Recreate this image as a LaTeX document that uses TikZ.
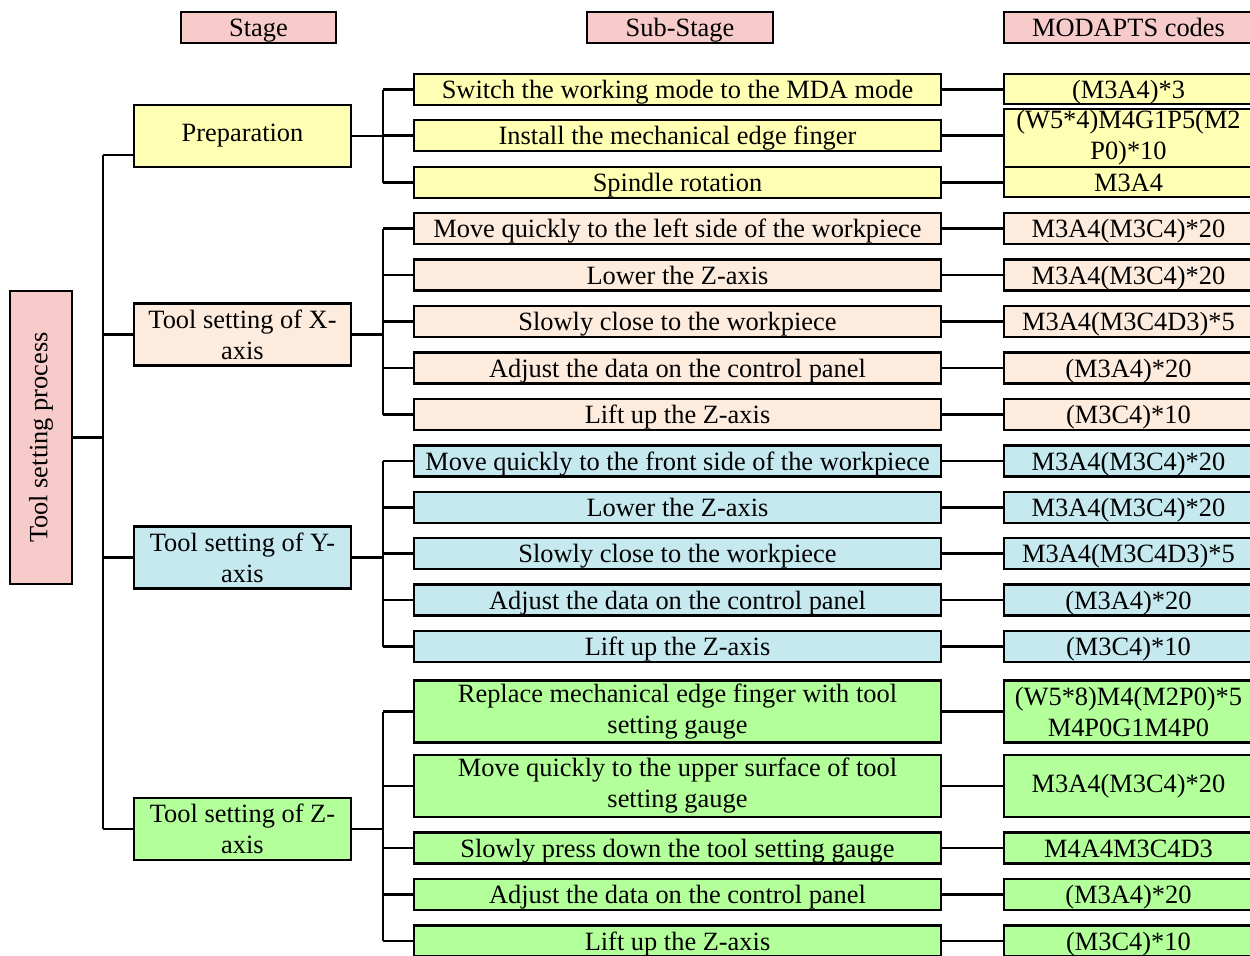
\documentclass[tikz,border=0pt]{standalone}
\usepackage{fontspec}
\setmainfont{Liberation Serif}
\usepackage{tikz}
\usetikzlibrary{calc}

\definecolor{hdpink}{RGB}{248,203,203}
\definecolor{prepyellow}{RGB}{255,255,179}
\definecolor{xpeach}{RGB}{253,235,221}
\definecolor{yblue}{RGB}{197,233,239}
\definecolor{zgreen}{RGB}{179,255,153}

\begin{document}
\begin{tikzpicture}[x=0.5pt, y=-0.5pt,
    box/.style={draw, line width=1.1pt, inner sep=0pt,
        font=\fontsize{13.2}{15.5}\selectfont},
    oneline/.style={text height=10.5pt, text depth=1.5pt},
    hdbox/.style={box, oneline, fill=hdpink, minimum height=15.5pt},
    stgbox/.style={box, align=center, minimum width=108.5pt, minimum height=31pt},
    subbox/.style={box, oneline, minimum width=263.5pt, minimum height=15.5pt},
    codebox/.style={box, oneline, minimum width=124.5pt, minimum height=15.5pt},
    tallbox/.style={align=center, minimum height=31pt, text height={}, text depth={}},
    wire/.style={line width=1.1pt}]
    \useasboundingbox (0,0) rectangle (1250,955);
    % headers
    \node[hdbox, minimum width=77.5pt] (hstage) at (258.5,27.5) {Stage};
    \node[hdbox, minimum width=93pt] (hsub) at (680,27.5) {Sub-Stage};
    \node[hdbox, minimum width=124.5pt] (hcode) at (1128.5,27.5) {MODAPTS codes};
    % root and stages
    \node[box, fill=hdpink, minimum width=31pt, minimum height=146.5pt] (root) at (41,437.5)
        {\rotatebox{90}{Tool setting process}};
    \node[stgbox, fill=prepyellow] (pst) at (242.5,136) {Preparation};
    \node[stgbox, fill=xpeach] (xst) at (242.5,334.5) {Tool setting of X-\\axis};
    \node[stgbox, fill=yblue] (yst) at (242.5,557.5) {Tool setting of Y-\\axis};
    \node[stgbox, fill=zgreen] (zst) at (242.5,829) {Tool setting of Z-\\axis};
    \coordinate (trunk) at (103,0);
    \coordinate (br) at (383,0);
    \coordinate (pin) at ([yshift=-9.5pt]pst.west);
    \draw[wire] (root.east) -- (root.east -| trunk);
    \draw[wire] (trunk |- pin) -- (trunk |- zst.west);
    \draw[wire] (trunk |- pin) -- (pin);
    \foreach \s in {xst,yst,zst}
        \draw[wire] (trunk |- \s.west) -- (\s.west);
    % preparation
    \node[subbox, fill=prepyellow] (p1) at (677.5,89.5) {Switch the working mode to the MDA mode};
    \node[subbox, fill=prepyellow] (p2) at (677.5,135.5) {Install the mechanical edge finger};
    \node[subbox, fill=prepyellow] (p3) at (677.5,182.5) {Spindle rotation};
    \node[codebox, fill=prepyellow, minimum height=15pt] (pc1) at (1128.5,89) {(M3A4)*3};
    \node[codebox, tallbox, fill=prepyellow, minimum height=29pt] (pc2) at (1128.5,138) {(W5*4)M4G1P5(M2\\P0)*10};
    \node[codebox, fill=prepyellow, minimum height=15pt] (pc3) at (1128.5,182) {M3A4};
    \foreach \n in {1,2,3}
        \draw[wire] (p\n.east) -- (p\n.east -| pc\n.west);
    % X axis
    \foreach \n/\yy/\t/\c in {1/228.5/Move quickly to the left side of the workpiece/M3A4(M3C4)*20,
            2/275/Lower the Z-axis/M3A4(M3C4)*20,
            3/321.5/Slowly close to the workpiece/M3A4(M3C4D3)*5,
            4/368/Adjust the data on the control panel/(M3A4)*20,
            5/414.5/Lift up the Z-axis/(M3C4)*10} {
        \node[subbox, fill=xpeach] (x\n) at (677.5,\yy) {\t};
        \node[codebox, fill=xpeach] (xc\n) at (1128.5,\yy) {\c};
        \draw[wire] (x\n) -- (xc\n);
    }
    % Y axis
    \foreach \n/\yy/\t/\c in {1/461/Move quickly to the front side of the workpiece/M3A4(M3C4)*20,
            2/507.5/Lower the Z-axis/M3A4(M3C4)*20,
            3/553.5/Slowly close to the workpiece/M3A4(M3C4D3)*5,
            4/600/Adjust the data on the control panel/(M3A4)*20,
            5/646.5/Lift up the Z-axis/(M3C4)*10} {
        \node[subbox, fill=yblue] (y\n) at (677.5,\yy) {\t};
        \node[codebox, fill=yblue] (yc\n) at (1128.5,\yy) {\c};
        \draw[wire] (y\n) -- (yc\n);
    }
    % Z axis
    \node[subbox, tallbox, fill=zgreen] (z1) at (677.5,711.5) {Replace mechanical edge finger with tool\\setting gauge};
    \node[subbox, tallbox, fill=zgreen] (z2) at (677.5,786) {Move quickly to the upper surface of tool\\setting gauge};
    \node[subbox, fill=zgreen] (z3) at (677.5,848) {Slowly press down the tool setting gauge};
    \node[subbox, fill=zgreen] (z4) at (677.5,894.5) {Adjust the data on the control panel};
    \node[subbox, fill=zgreen] (z5) at (677.5,941) {Lift up the Z-axis};
    \node[codebox, tallbox, fill=zgreen] (zc1) at (1128.5,711.5) {(W5*8)M4(M2P0)*5\\M4P0G1M4P0};
    \node[codebox, tallbox, fill=zgreen] (zc2) at (1128.5,786) {M3A4(M3C4)*20};
    \node[codebox, fill=zgreen] (zc3) at (1128.5,848) {M4A4M3C4D3};
    \node[codebox, fill=zgreen] (zc4) at (1128.5,894.5) {(M3A4)*20};
    \node[codebox, fill=zgreen] (zc5) at (1128.5,941) {(M3C4)*10};
    \foreach \n in {1,...,5}
        \draw[wire] (z\n) -- (zc\n);
    % stage to sub-stage branches
    \foreach \s/\g/\k in {pst/p/3,xst/x/5,yst/y/5,zst/z/5} {
        \draw[wire] (\s.east) -- (\s.east -| br);
        \draw[wire] (br |- \g1.west) -- (br |- \g\k.west);
        \foreach \n in {1,...,\k}
            \draw[wire] (br |- \g\n.west) -- (\g\n.west);
    }
\end{tikzpicture}
\end{document}
